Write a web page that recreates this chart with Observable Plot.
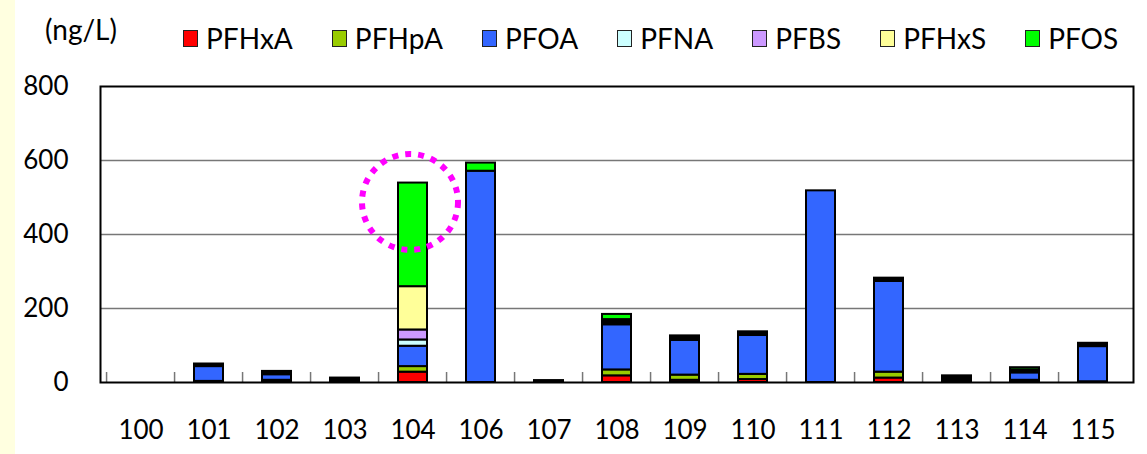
<!DOCTYPE html>
<html>
<head>
<meta charset="utf-8">
<script src="https://cdn.jsdelivr.net/npm/d3@7"></script>
<script src="https://cdn.jsdelivr.net/npm/@observablehq/plot@0.6"></script>
<style>
  html, body { margin: 0; padding: 0; background: #fff; }
  #wrap { position: relative; width: 1147px; height: 454px; overflow: hidden; font-family: Lato, "Open Sans", sans-serif; }
  #strip { position: absolute; left: 0; top: 0; width: 15px; height: 454px; background: #FFFFE0; }
  #head { position: relative; height: 70px; }
  #unit { position: absolute; left: 45px; top: 12px; font-size: 28px; color: #000; }
  #legend { position: absolute; left: 183px; top: 21px; display: flex; gap: 39px; align-items: center; }
  .item { display: flex; align-items: center; gap: 8px; font-size: 28px; color: #000; }
  .sw { width: 13px; height: 15px; border: 1.5px solid #222; }
  #chart { position: relative; }
</style>
</head>
<body>
<div id="wrap">
  <div id="strip"></div>
  <div id="head">
    <div id="unit">(ng/L)</div>
    <div id="legend"></div>
  </div>
  <div id="chart"></div>
</div>
<script>
const stations = ["100","101","102","103","104","106","107","108","109","110","111","112","113","114","115"];
const seriesNames = ["PFHxA","PFHpA","PFOA","PFNA","PFBS","PFHxS","PFOS"];
const seriesColors = ["#FF0000","#99CC00","#3366FF","#CCFFFF","#CC99FF","#FFFF99","#00FF00"];
const PFHxA = [0, 1, 3, 3, 28, 0, 1, 18, 6, 8, 0, 12, 4, 3, 1];
const PFHpA = [0, 2, 3, 3, 15, 0, 1, 16, 14, 14, 0, 16, 4, 3, 1];
const PFOA  = [0, 40, 15, 0, 55, 571, 0, 122, 94, 105, 518, 245, 0, 20, 95];
const PFNA  = [0, 1, 2, 1, 17, 0, 1, 5, 2, 2, 0, 2, 2, 2, 1];
const PFBS  = [0, 1, 1, 1, 27, 0, 1, 4, 2, 2, 0, 2, 2, 2, 1];
const PFHxS = [0, 2, 3, 2, 117, 0, 1, 5, 4, 3, 0, 3, 3, 4, 3];
const PFOS  = [0, 3, 3, 2, 280, 22, 0, 14, 4, 3, 0, 2, 3, 6, 4];
const yTicks = [0, 200, 400, 600, 800];
const gridTicks = [200, 400, 600];
const highlight = [{station: "104", value: 488}];

const seriesValues = [PFHxA, PFHpA, PFOA, PFNA, PFBS, PFHxS, PFOS];
const rows = [];
seriesNames.forEach((s, si) => {
  stations.forEach((st, i) => {
    const v = seriesValues[si][i];
    if (v > 0) rows.push({station: st, series: s, value: v});
  });
});

// legend
const leg = document.getElementById("legend");
seriesNames.forEach((s, i) => {
  const it = document.createElement("div");
  it.className = "item";
  const sw = document.createElement("div");
  sw.className = "sw";
  sw.style.background = seriesColors[i];
  const t = document.createElement("span");
  t.textContent = s;
  it.appendChild(sw); it.appendChild(t);
  leg.appendChild(it);
});

const W = 1147, ML = 100, MR = 14;
const step = (W - ML - MR) / stations.length;

const chart = Plot.plot({
  width: W,
  height: 384,
  marginTop: 16,
  marginBottom: 72,
  marginLeft: ML,
  marginRight: MR,
  style: {fontFamily: "Lato, 'Open Sans', sans-serif", fontSize: "26px", color: "#000", background: "transparent"},
  x: {domain: stations, paddingInner: 0.58, paddingOuter: 0.29, align: 0.5},
  y: {domain: [0, 800]},
  color: {domain: seriesNames, range: seriesColors},
  marks: [
    Plot.ruleY(gridTicks, {stroke: "#777", strokeWidth: 1.5}),
    Plot.ruleX(stations, {x: d => d, y1: 0, y2: 27, dx: -step / 2, stroke: "#777", strokeWidth: 1.5}),
    Plot.barY(rows, {x: "station", y: "value", fill: "series", stroke: "#000", strokeWidth: 2, order: seriesNames}),
    Plot.dot(highlight, {x: "station", y: "value", r: 48, stroke: "#FF00FF", strokeWidth: 6, strokeDasharray: "6,7", fill: "none", dx: -3}),
    Plot.frame({stroke: "#000", strokeWidth: 2}),
    Plot.axisY({ticks: yTicks, tickSize: 0, tickPadding: 32, label: null, fontSize: 26}),
    Plot.axisX({tickSize: 0, tickPadding: 38, label: null, fontSize: 26})
  ]
});
document.getElementById("chart").appendChild(chart);
</script>
</body>
</html>
